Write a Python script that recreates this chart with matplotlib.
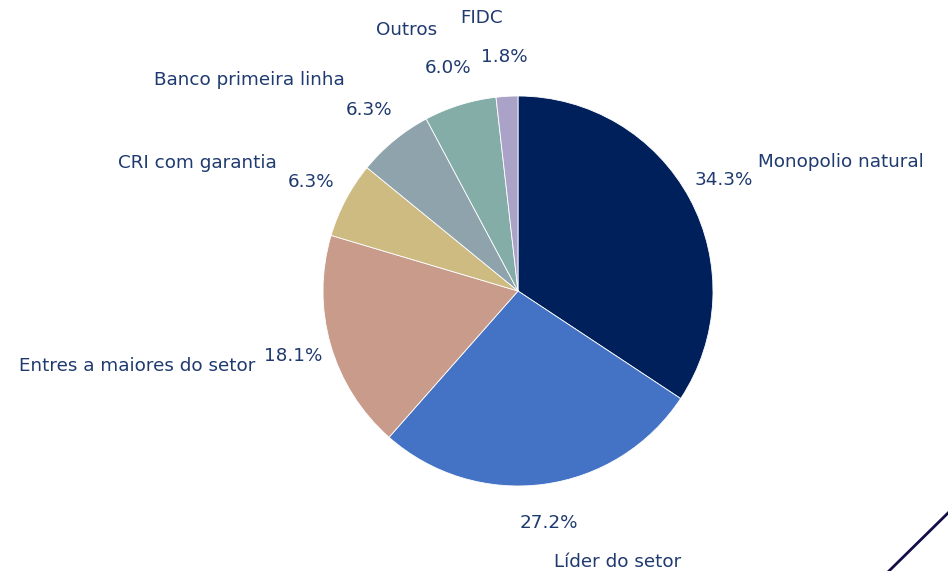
import matplotlib
matplotlib.use('Agg')
import matplotlib.pyplot as plt
from matplotlib.lines import Line2D

labels = ['Monopolio natural', 'Líder do setor', 'Entres a maiores do setor',
          'CRI com garantia', 'Banco primeira linha', 'Outros', 'FIDC']
shares = [34.3, 27.2, 18.1, 6.3, 6.3, 6.0, 1.8]
colors = ['#00205B', '#4472C4', '#C99B8A', '#CDBB82', '#8FA3AC', '#84ADA8', '#ABA3C7']
text_color = '#1F3A6E'

fig = plt.figure(figsize=(9.48, 5.71), dpi=100)
ax = fig.add_axes([0, 0, 1, 1])

wedges, texts, autotexts = ax.pie(
    shares, labels=labels, colors=colors, startangle=90, counterclock=False,
    autopct='%1.1f%%', pctdistance=1.2, labeldistance=1.4,
    wedgeprops=dict(edgecolor='white', linewidth=0.6),
    textprops=dict(color=text_color, fontsize=13.2))

r = 195.0
ax.set_xlim(-518 / r, 430 / r)
ax.set_ylim(-280 / r, 291 / r)
ax.set_aspect('auto')
ax.axis('off')

# decorative corner line
fig.add_artist(Line2D([889 / 948, 1.0], [0, 58 / 571], color='#120E4A', linewidth=2))

fig.savefig('out.png', dpi=100)
